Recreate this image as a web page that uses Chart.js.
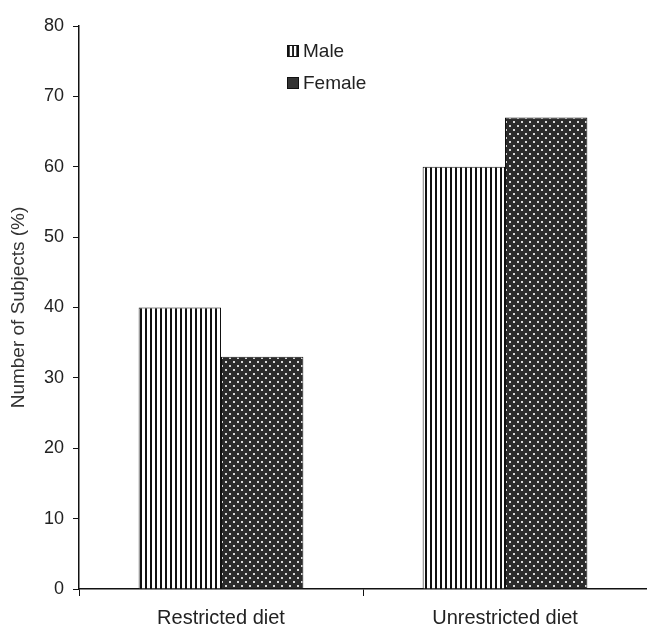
<!DOCTYPE html>
<html>
<head>
<meta charset="utf-8">
<script src="https://cdn.jsdelivr.net/npm/chart.js@4"></script>
<style>
  html, body { margin: 0; padding: 0; background: #fff; }
  .wrap { position: relative; width: 647px; height: 631px; }
  .legend { position: absolute; left: 287px; top: 35px; font: 19px "Liberation Sans", Arial, sans-serif; color: #222; }
  .legend div { display: flex; align-items: center; height: 32px; }
  .legend canvas { width: 12px; height: 12px; margin-right: 4px; border: 1px solid #111; box-sizing: border-box; }
</style>
</head>
<body>
<div class="wrap">
  <canvas id="barChart" width="647" height="631"></canvas>
  <div class="legend">
    <div><canvas id="swMale" width="12" height="12"></canvas>Male</div>
    <div><canvas id="swFemale" width="12" height="12"></canvas>Female</div>
  </div>
</div>
<script>
const categories = ['Restricted diet', 'Unrestricted diet'];
const maleValues = [40, 60];
const femaleValues = [33, 67];
const yTicks = [0, 10, 20, 30, 40, 50, 60, 70, 80];

// stripe + dot fills like the old print
const makeStripes = () => {
  let c = document.createElement('canvas');
  c.width = 5; c.height = 5;
  let g = c.getContext('2d');
  g.fillStyle = '#fff';
  g.fillRect(0, 0, 5, 5);
  g.fillStyle = '#111';
  g.fillRect(0, 0, 2, 5);
  return c;
};

const makeDots = () => {
  let c = document.createElement('canvas');
  c.width = 8; c.height = 8;
  let g = c.getContext('2d');
  g.fillStyle = '#2b2b2b';
  g.fillRect(0, 0, 8, 8);
  g.fillStyle = '#d8d8d8';
  g.fillRect(1, 1, 2, 2);
  g.fillRect(5, 5, 2, 2);
  return c;
};

const ctx = document.getElementById('barChart').getContext('2d');
const malePattern = ctx.createPattern(makeStripes(), 'repeat');
const femalePattern = ctx.createPattern(makeDots(), 'repeat');

let sm = document.getElementById('swMale').getContext('2d');
sm.fillStyle = sm.createPattern(makeStripes(), 'repeat');
sm.fillRect(0, 0, 12, 12);
let sf = document.getElementById('swFemale').getContext('2d');
sf.fillStyle = '#333';
sf.fillRect(0, 0, 12, 12);

const font = (size) => ({ family: '"Liberation Sans", Arial', size: size });

new Chart(ctx, {
  type: 'bar',
  data: {
    labels: categories,
    datasets: [{
      label: 'Male',
      data: maleValues,
      backgroundColor: malePattern,
      borderColor: '#111',
      borderWidth: 1,
      categoryPercentage: 0.58,
      barPercentage: 1
    }, {
      label: 'Female',
      data: femaleValues,
      backgroundColor: femalePattern,
      borderColor: '#111',
      borderWidth: 1,
      categoryPercentage: 0.58,
      barPercentage: 1
    }]
  },
  options: {
    responsive: false,
    animation: false,
    layout: { padding: { top: 26, right: 0, left: 0, bottom: 0 } },
    plugins: { legend: { display: false }, tooltip: { enabled: false } },
    scales: {
      x: {
        grid: { display: true, drawOnChartArea: false, offset: true, color: '#111', tickLength: 7 },
        border: { color: '#111', width: 1.5 },
        ticks: { color: '#222', font: font(20), padding: 10 },
        afterFit: (scale) => { scale.height = 42; }
      },
      y: {
        min: 0,
        max: 80,
        afterBuildTicks: (scale) => { scale.ticks = yTicks.map(v => ({ value: v })); },
        grid: { display: true, drawOnChartArea: false, color: '#111', tickLength: 6 },
        border: { color: '#111', width: 1.5 },
        ticks: { color: '#222', font: font(18), padding: 9 },
        title: { display: true, text: 'Number of Subjects (%)', color: '#333', font: font(19), padding: { top: 7, bottom: 0 } },
        afterFit: (scale) => { scale.width = 79; }
      }
    }
  }
});
</script>
</body>
</html>
